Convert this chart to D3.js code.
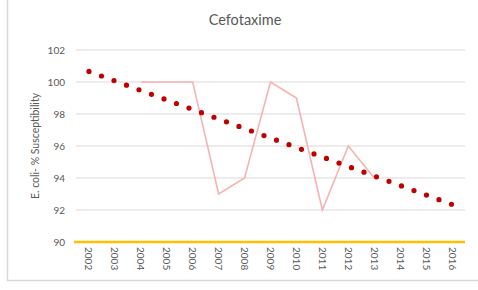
<!DOCTYPE html>
<html>
<head>
<meta charset="utf-8">
<script src="https://cdn.jsdelivr.net/npm/d3@7"></script>
<style>
  body { margin: 0; background: #fff; }
  svg text { font-family: Lato, "Open Sans", sans-serif; fill: #595959; }
</style>
</head>
<body>
<div id="chart"></div>
<script>
// categories and values
const years = ["2002", "2003", "2004", "2005", "2006", "2007", "2008", "2009",
               "2010", "2011", "2012", "2013", "2014", "2015", "2016"];
const susceptibility = [null, null, 100, 100, 100, 93, 94, 100, 99, 92, 96, 94, null, null, null];
const yTicks = [90, 92, 94, 96, 98, 100, 102];

const width = 478;
const height = 290;

const svg = d3.select("#chart")
    .append("svg")
    .attr("width", width)
    .attr("height", height);

// chart frame (left and bottom edges visible)
svg.append("path")
    .attr("d", "M7.5,0V280.5H478")
    .attr("fill", "none")
    .attr("stroke", "#d9d9d9")
    .attr("stroke-width", 1.5);

const x = d3.scaleBand().domain(years).range([76, 465]);
const y = d3.scaleLinear().domain([90, 102]).range([242, 50]);
const cx = d => x(d) + x.bandwidth() / 2;

// gridlines
svg.selectAll(".grid")
    .data(yTicks.filter(t => t > 90))
    .enter().append("line")
    .attr("class", "grid")
    .attr("x1", 76).attr("x2", 465)
    .attr("y1", d => y(d)).attr("y2", d => y(d))
    .attr("stroke", "#d9d9d9")
    .attr("stroke-width", 1.2);

// y tick labels
svg.selectAll(".ytick")
    .data(yTicks)
    .enter().append("text")
    .attr("class", "ytick")
    .attr("x", 65)
    .attr("y", d => y(d))
    .attr("dy", "0.35em")
    .attr("text-anchor", "end")
    .style("font-size", "10px")
    .text(d => d);

// x axis at 90
svg.append("line")
    .attr("x1", 74).attr("x2", 465)
    .attr("y1", y(90)).attr("y2", y(90))
    .attr("stroke", "#ffc000")
    .attr("stroke-width", 2.6);

// year labels, rotated
svg.selectAll(".xtick")
    .data(years)
    .enter().append("text")
    .attr("class", "xtick")
    .attr("transform", d => `translate(${cx(d)},${y(90) + 5}) rotate(90)`)
    .attr("dy", "0.35em")
    .style("font-size", "10px")
    .text(d => d);

// data line
const pts = years.map((yr, i) => ({ yr, v: susceptibility[i] }));
const line = d3.line()
    .defined(d => d.v != null)
    .x(d => cx(d.yr))
    .y(d => y(d.v));

svg.append("path")
    .datum(pts)
    .attr("fill", "none")
    .attr("stroke", "#f5b3b3")
    .attr("stroke-width", 1.6)
    .attr("d", line);

// linear trendline (least squares on the data, extended over all years)
const known = pts.map((d, i) => ({ i, v: d.v })).filter(d => d.v != null);
const mx = d3.mean(known, d => d.i);
const my = d3.mean(known, d => d.v);
const slope = d3.sum(known, d => (d.i - mx) * (d.v - my)) / d3.sum(known, d => (d.i - mx) ** 2);
const trend = i => my + slope * (i - mx);

const tx1 = cx(years[0]), ty1 = y(trend(0));
const tx2 = cx(years[years.length - 1]), ty2 = y(trend(years.length - 1));
const len = Math.hypot(tx2 - tx1, ty2 - ty1);
const gap = len / 29 - 0.02; // slightly short so the last dot lands on the end

svg.append("line")
    .attr("x1", tx1).attr("y1", ty1)
    .attr("x2", tx2).attr("y2", ty2)
    .attr("stroke", "#c00000")
    .attr("stroke-width", 5.2)
    .attr("stroke-linecap", "round")
    .attr("stroke-dasharray", `0 ${gap}`);

// titles
svg.append("text")
    .attr("x", 245)
    .attr("y", 25)
    .attr("text-anchor", "middle")
    .style("font-size", "14.5px")
    .text("Cefotaxime");

svg.append("text")
    .attr("transform", "translate(39,146) rotate(-90)")
    .attr("text-anchor", "middle")
    .style("font-size", "10.5px")
    .text("E. coli- % Susceptibility");
</script>
</body>
</html>
